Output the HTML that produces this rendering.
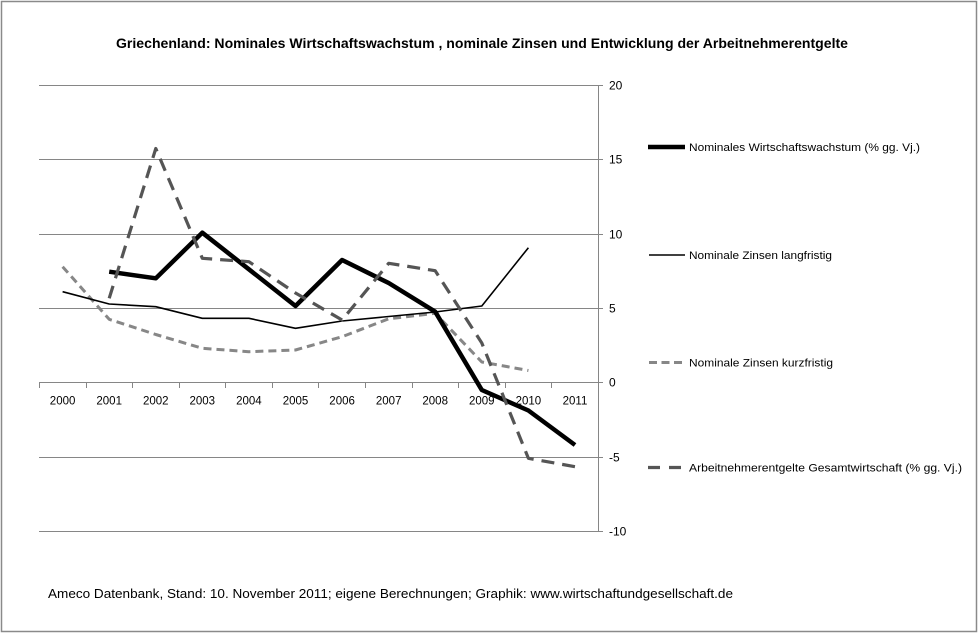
<!DOCTYPE html>
<html>
<head>
<meta charset="utf-8">
<style>
  html, body { margin: 0; padding: 0; background: #ffffff; }
  svg { display: block; }
  text { font-family: "Liberation Sans", "DejaVu Sans", sans-serif; fill: #000; }
</style>
</head>
<body>
<svg width="979" height="634" viewBox="0 0 979 634" xmlns="http://www.w3.org/2000/svg">
  <rect x="0" y="0" width="979" height="634" fill="#ffffff"/>
  <!-- outer border -->
  <rect x="1.5" y="1.5" width="975" height="630" fill="none" stroke="#8a8a8a" stroke-width="1.5"/>

  <!-- title -->
  <text x="116" y="48" font-size="13.5" font-weight="bold" textLength="732" lengthAdjust="spacingAndGlyphs">Griechenland: Nominales Wirtschaftswachstum , nominale Zinsen und Entwicklung der Arbeitnehmerentgelte</text>

  <!-- gridlines -->
  <g stroke="#868686" stroke-width="1">
    <line x1="39" y1="85.5" x2="598" y2="85.5"/>
    <line x1="39" y1="159.5" x2="598" y2="159.5"/>
    <line x1="39" y1="234.5" x2="598" y2="234.5"/>
    <line x1="39" y1="308.5" x2="598" y2="308.5"/>
    <line x1="39" y1="457.5" x2="598" y2="457.5"/>
    <line x1="39" y1="531.5" x2="598" y2="531.5"/>
    <!-- x axis at 0 -->
    <line x1="39" y1="382.5" x2="603" y2="382.5"/>
    <!-- right value axis -->
    <line x1="598.5" y1="85" x2="598.5" y2="532"/>
    <!-- right ticks -->
    <line x1="598" y1="85.5" x2="603" y2="85.5"/>
    <line x1="598" y1="159.5" x2="603" y2="159.5"/>
    <line x1="598" y1="234.5" x2="603" y2="234.5"/>
    <line x1="598" y1="308.5" x2="603" y2="308.5"/>
    <line x1="598" y1="457.5" x2="603" y2="457.5"/>
    <line x1="598" y1="531.5" x2="603" y2="531.5"/>
    <!-- category ticks -->
    <line x1="39.5" y1="382" x2="39.5" y2="388"/>
    <line x1="86.5" y1="382" x2="86.5" y2="388"/>
    <line x1="132.5" y1="382" x2="132.5" y2="388"/>
    <line x1="179.5" y1="382" x2="179.5" y2="388"/>
    <line x1="225.5" y1="382" x2="225.5" y2="388"/>
    <line x1="272.5" y1="382" x2="272.5" y2="388"/>
    <line x1="318.5" y1="382" x2="318.5" y2="388"/>
    <line x1="365.5" y1="382" x2="365.5" y2="388"/>
    <line x1="412.5" y1="382" x2="412.5" y2="388"/>
    <line x1="458.5" y1="382" x2="458.5" y2="388"/>
    <line x1="505.5" y1="382" x2="505.5" y2="388"/>
    <line x1="551.5" y1="382" x2="551.5" y2="388"/>
  </g>

  <!-- right axis labels -->
  <g font-size="12">
    <text x="609" y="89.5">20</text>
    <text x="609" y="163.5">15</text>
    <text x="609" y="238.5">10</text>
    <text x="609" y="312.5">5</text>
    <text x="609" y="386.5">0</text>
    <text x="609" y="461.5">-5</text>
    <text x="609" y="535.5">-10</text>
  </g>

  <!-- year labels -->
  <g font-size="11.5" text-anchor="middle">
    <text x="62.6" y="404.5">2000</text>
    <text x="109.2" y="404.5">2001</text>
    <text x="155.8" y="404.5">2002</text>
    <text x="202.3" y="404.5">2003</text>
    <text x="248.9" y="404.5">2004</text>
    <text x="295.5" y="404.5">2005</text>
    <text x="342.1" y="404.5">2006</text>
    <text x="388.7" y="404.5">2007</text>
    <text x="435.2" y="404.5">2008</text>
    <text x="481.8" y="404.5">2009</text>
    <text x="528.4" y="404.5">2010</text>
    <text x="575" y="404.5">2011</text>
  </g>

  <!-- Nominale Zinsen kurzfristig (light grey dashed) -->
  <polyline fill="none" stroke="#878787" stroke-width="3" stroke-dasharray="8,5" stroke-linejoin="round"
    points="62.6,266.7 109.2,319.3 155.8,334.5 202.3,348.3 248.9,351.7 295.5,350 342.1,336.7 388.7,318.8 435.2,313.3 481.8,362 528.4,370.5"/>

  <!-- Nominale Zinsen langfristig (thin black) -->
  <polyline fill="none" stroke="#000" stroke-width="1.6" stroke-linejoin="round"
    points="62.6,291.7 109.2,304 155.8,306.7 202.3,318.3 248.9,318.3 295.5,328.3 342.1,321 388.7,316.5 435.2,312 481.8,306 528.4,247.7"/>

  <!-- Nominales Wirtschaftswachstum (thick black) -->
  <polyline fill="none" stroke="#000" stroke-width="4.5" stroke-linejoin="round"
    points="109.2,271.7 155.8,278.3 202.3,232.7 248.9,269.3 295.5,306 342.1,260 388.7,283 435.2,311.7 481.8,390 528.4,410.5 575,445"/>

  <!-- Arbeitnehmerentgelte (dark grey long dash) -->
  <polyline fill="none" stroke="#555555" stroke-width="3.2" stroke-dasharray="13,8" stroke-linejoin="round"
    points="109.2,298.3 155.8,148.5 202.3,258.3 248.9,261.7 295.5,293 342.1,320 388.7,263.3 435.2,270.7 481.8,343 528.4,458.3 575,466.7"/>

  <!-- legend -->
  <line x1="648" y1="147" x2="685" y2="147" stroke="#000" stroke-width="4.5"/>
  <text x="689" y="151" font-size="11" textLength="231" lengthAdjust="spacingAndGlyphs">Nominales Wirtschaftswachstum  (% gg. Vj.)</text>

  <line x1="649" y1="255" x2="685" y2="255" stroke="#000" stroke-width="1.6"/>
  <text x="689" y="259" font-size="11" textLength="143" lengthAdjust="spacingAndGlyphs">Nominale Zinsen langfristig</text>

  <line x1="649" y1="362.5" x2="685" y2="362.5" stroke="#878787" stroke-width="3" stroke-dasharray="8,4.5"/>
  <text x="689" y="366.5" font-size="11" textLength="144" lengthAdjust="spacingAndGlyphs">Nominale Zinsen kurzfristig</text>

  <line x1="648" y1="467.5" x2="685" y2="467.5" stroke="#555555" stroke-width="3.2" stroke-dasharray="12,9"/>
  <text x="689" y="471.5" font-size="11" textLength="273" lengthAdjust="spacingAndGlyphs">Arbeitnehmerentgelte Gesamtwirtschaft  (% gg. Vj.)</text>

  <!-- footer -->
  <text x="48" y="598" font-size="12.5" textLength="685" lengthAdjust="spacingAndGlyphs">Ameco Datenbank, Stand: 10. November 2011; eigene Berechnungen;  Graphik: www.wirtschaftundgesellschaft.de</text>
</svg>
</body>
</html>
